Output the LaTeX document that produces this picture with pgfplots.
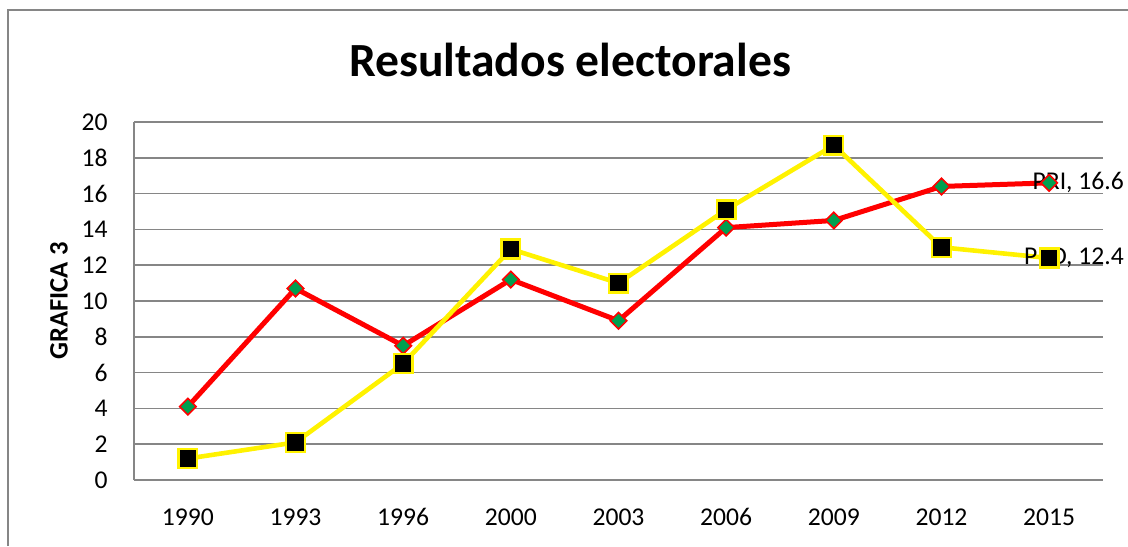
\documentclass[border=0pt]{standalone}
\usepackage{fontspec}
\setmainfont{Carlito}
\usepackage{pgfplots}
\pgfplotsset{compat=1.18}
\definecolor{gridgray}{HTML}{868686}
\definecolor{mkgreen}{HTML}{00A050}
\begin{document}
\begin{tikzpicture}
\path[use as bounding box] (0,0) rectangle (564pt,273pt);
\draw[gridgray, line width=1pt] (4pt,0) -- (4pt,268pt) -- (564pt,268pt);
\node[anchor=base, font=\fontsize{23.8}{28}\selectfont\bfseries] at (285pt,234.5pt) {Resultados electorales};
\node[rotate=90, font=\fontsize{13.3}{16}\selectfont\bfseries] at (29.5pt,122.5pt) {GRAFICA 3};
\begin{axis}[at={(67pt,33pt)}, anchor=south west, scale only axis,
  width=484.5pt, height=179pt,
  xmin=-0.5, xmax=8.5, ymin=0, ymax=20,
  ytick={0,2,...,20}, xtick={0,...,8},
  xticklabels={1990,1993,1996,2000,2003,2006,2009,2012,2015},
  axis lines=left, axis line style={-, draw=gridgray, line width=0.75pt},
  ymajorgrids, grid style={draw=gridgray, line width=0.75pt},
  major tick length=0pt, tick style={draw=none},
  ticklabel style={font=\fontsize{12.8}{15}\selectfont},
  yticklabel style={anchor=east, inner sep=0pt, xshift=-13pt},
  xticklabel style={anchor=north, inner sep=0pt, yshift=-14pt},
  /pgf/number format/assume math mode=true,
  clip=false]
\addplot[color=red, line width=2.5pt, mark=square*, mark size=2.9pt,
  mark options={rotate=45, fill=mkgreen, draw=red, line width=0.8pt}]
  coordinates {(0,4.1) (1,10.7) (2,7.5) (3,11.2) (4,8.9) (5,14.1) (6,14.5) (7,16.4) (8,16.6)};
\addplot[color=yellow, line width=2.3pt, mark=square*, mark size=4.7pt,
  mark options={fill=black, draw=yellow, line width=1.2pt}]
  coordinates {(0,1.2) (1,2.1) (2,6.5) (3,12.9) (4,11.0) (5,15.1) (6,18.7) (7,13.0) (8,12.4)};
\node[anchor=east, inner sep=0pt, xshift=37.5pt, font=\fontsize{12.8}{15}\selectfont] at (axis cs:8,16.6) {PRI, 16.6};
\node[anchor=east, inner sep=0pt, xshift=37.5pt, font=\fontsize{12.8}{15}\selectfont] at (axis cs:8,12.4) {PRD, 12.4};
\end{axis}
\end{tikzpicture}
\end{document}
